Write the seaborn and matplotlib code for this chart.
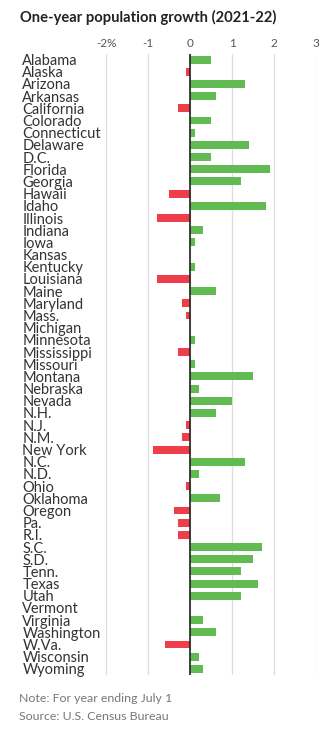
import matplotlib
matplotlib.use("Agg")
import matplotlib.pyplot as plt
import seaborn as sns
import pandas as pd

states = [
    "Alabama", "Alaska", "Arizona", "Arkansas", "California", "Colorado",
    "Connecticut", "Delaware", "D.C.", "Florida", "Georgia", "Hawaii", "Idaho",
    "Illinois", "Indiana", "Iowa", "Kansas", "Kentucky", "Louisiana", "Maine",
    "Maryland", "Mass.", "Michigan", "Minnesota", "Mississippi", "Missouri",
    "Montana", "Nebraska", "Nevada", "N.H.", "N.J.", "N.M.", "New York",
    "N.C.", "N.D.", "Ohio", "Oklahoma", "Oregon", "Pa.", "R.I.", "S.C.",
    "S.D.", "Tenn.", "Texas", "Utah", "Vermont", "Virginia", "Washington",
    "W.Va.", "Wisconsin", "Wyoming",
]
growth = [
    0.5, -0.1, 1.3, 0.6, -0.3, 0.5,
    0.1, 1.4, 0.5, 1.9, 1.2, -0.5, 1.8,
    -0.8, 0.3, 0.1, 0.0, 0.1, -0.8, 0.6,
    -0.2, -0.1, 0.0, 0.1, -0.3, 0.1,
    1.5, 0.2, 1.0, 0.6, -0.1, -0.2, -0.9,
    1.3, 0.2, -0.1, 0.7, -0.4, -0.3, -0.3, 1.7,
    1.5, 1.2, 1.6, 1.2, 0.0, 0.3, 0.6,
    -0.6, 0.2, 0.3,
]
tick_values = [-2, -1, 0, 1, 2, 3]
tick_labels = ["-2%", "-1", "0", "1", "2", "3"]

df = pd.DataFrame({"state": states, "growth": growth})
df["sign"] = ["gain" if g >= 0 else "loss" for g in growth]

sns.set_theme(style="white")
plt.rcParams["font.family"] = ["Lato", "DejaVu Sans"]

fig = plt.figure(figsize=(3.36, 7.33), dpi=100)
ax = fig.add_axes([106.3 / 336, 1 - 675 / 733, 210 / 336, 621.5 / 733])

sns.barplot(
    data=df, x="growth", y="state", hue="sign", order=states,
    palette={"gain": "#62bb52", "loss": "#ef3e4a"}, saturation=1,
    dodge=False, width=0.65, legend=False, ax=ax, orient="h",
    linewidth=0,
)

ax.set_xlim(-2, 3)
ax.set_ylim(len(states) - 0.5, -0.5)
ax.set_xlabel("")
ax.set_ylabel("")
for s in ax.spines.values():
    s.set_visible(False)

ax.set_xticks(tick_values)
ax.set_xticklabels(tick_labels)
ax.xaxis.tick_top()
ax.tick_params(axis="x", length=0, pad=3, labelsize=8.5, labelcolor="#555555")
ax.grid(axis="x", color="#dddddd", linewidth=0.9)
ax.set_axisbelow(True)
ax.axvline(0, color="#222222", linewidth=1.2)

ax.tick_params(axis="y", length=0, pad=60.5, labelsize=10.5, labelcolor="#333333")
for lab in ax.get_yticklabels():
    lab.set_horizontalalignment("left")

fig.text(20 / 336, 1 - 17 / 733, "One-year population growth (2021-22)",
         fontsize=10.6, fontweight="bold", color="#222222", va="center", ha="left")
fig.text(19 / 336, 1 - 698 / 733, "Note: For year ending July 1",
         fontsize=8.9, color="#777777", va="center", ha="left")
fig.text(19 / 336, 1 - 716 / 733, "Source: U.S. Census Bureau",
         fontsize=8.9, color="#777777", va="center", ha="left")

fig.savefig("out.png", dpi=100)
